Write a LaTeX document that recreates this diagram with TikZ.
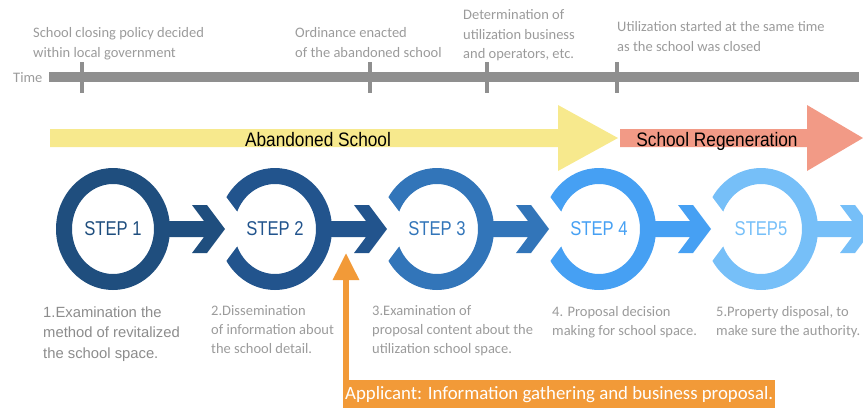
\documentclass[tikz,border=0pt]{standalone}
\usepackage{graphicx}
\usepackage{fontspec}
\setmainfont{Carlito}
\newfontfamily\arialfont{Liberation Sans}
\usetikzlibrary{arrows.meta,positioning,calc,backgrounds}
\definecolor{stepa}{HTML}{1F4E7E}
\definecolor{stepb}{HTML}{22548D}
\definecolor{stepc}{HTML}{3275B9}
\definecolor{stepd}{HTML}{46A0F3}
\definecolor{stepe}{HTML}{76BFF8}
\definecolor{timegray}{HTML}{8F8F8F}
\definecolor{notegray}{HTML}{9B9B9B}
\definecolor{capgray}{HTML}{8C8C8C}
\definecolor{abyellow}{HTML}{F7E98D}
\definecolor{regenred}{HTML}{F29A86}
\definecolor{apporange}{HTML}{F29A38}

\begin{document}
\begin{tikzpicture}[x=1pt,y=-1pt,
note/.style={anchor=base west,align=left,inner sep=0pt,text=notegray,
font=\fontsize{14.5}{19.5}\selectfont},
caption/.style={anchor=base west,align=left,inner sep=0pt,text=notegray,
font=\fontsize{14.5}{19}\selectfont},
stepname/.style={inner sep=0pt,font=\arialfont\fontsize{20}{20}\selectfont},
phase/.style={anchor=base,inner sep=0pt,font=\arialfont\fontsize{19.5}{20}\selectfont},
tick/.style={draw=timegray,line width=3.5pt},
timebar/.style={draw=timegray,line width=10pt},
applicant/.style={anchor=north west,fill=apporange,text=white,inner xsep=2pt,
minimum height=28pt,font=\fontsize{18.8}{20}\selectfont},
apparrow/.style={draw=apporange,line width=6pt,-{Triangle[length=27pt,width=25pt]}}
]
\useasboundingbox (0,0) rectangle (863,408);

% time line (notes sit on the baseline of their last line)
\node[note] (time) at (13,82) {Time};
\draw[timebar] (49,77) -- (859,77);
\foreach \x in {82,370,487,617} \draw[tick] (\x,62) -- (\x,93);
\node[note] (t1) at (33,57) {School closing policy decided\\within local government};
\node[note] (t2) at (295,57) {Ordinance enacted\\of the abandoned school};
\node[note] (t3) at (463,58.5) {Determination of\\utilization business\\and operators, etc.};
\node[note] (t4) at (617,51) {Utilization started at the same time\\as the school was closed};

% phases
\fill[abyellow] (50,129) -- (558,129) -- (558,105) -- (618,138) -- (558,171)
-- (558,147) -- (50,147) -- cycle;
\fill[regenred] (620,129) -- (807,129) -- (807,105) -- (863,138) -- (807,171)
-- (807,147) -- (620,147) -- cycle;
\node[phase] (aband) at (318,146) {\scalebox{0.885}[1]{Abandoned School}};
\node[phase] (regen) at (717,146) {\scalebox{0.885}[1]{School Regeneration}};

% steps
\foreach \i/\col/\lbl [evaluate=\i as \x using 113+162*(\i-1)] in
{1/stepa/STEP 1,2/stepb/STEP 2,3/stepc/STEP 3,4/stepd/STEP 4,5/stepe/STEP5}
\node[stepname,text=\col] (s\i) at (\x,229) {\scalebox{0.83}[1]{\lbl}};

\begin{scope}[on background layer]
\clip (0,0) rectangle (863,408);
\foreach \i/\col in {1/stepa,2/stepb,3/stepc,4/stepd,5/stepe}
\fill[\col,even odd rule] (s\i.center) ellipse [x radius=57,y radius=61]
(s\i.center) ellipse [x radius=41,y radius=45];
% notches cut into the rings
\foreach \i in {2,...,5}
\fill[white,shift={(s\i.center)}] (-25,0) -- (-72,-63) -- (-100,-63)
-- (-100,63) -- (-72,63) -- cycle;
\foreach \i/\col in {1/stepa,2/stepb,3/stepc,4/stepd,5/stepe}
\fill[\col,shift={(s\i.center)}] (50,-8) -- (91,-8) -- (79,-24) -- (94,-24)
-- (112,0) -- (94,24) -- (79,24) -- (91,8) -- (50,8) -- cycle;
\end{scope}

% captions
\node[caption,text=capgray,font=\arialfont\fontsize{14.8}{20.5}\selectfont] (d1) at (43,358)
{1.Examination the\\method of revitalized\\the school space.};
\node[caption] (d2) at (211,353) {2.Dissemination\\of information about\\the school detail.};
\node[caption] (d3) at (372,353) {3.Examination of\\proposal content about the\\utilization school space.};
\node[caption] (d4) at (552,335) {4. Proposal decision\\making for school space.};
\node[caption] (d5) at (716,335) {5.Property disposal, to\\make sure the authority.};

% applicant
\node[applicant] (app) at (343,380) {Applicant: Information gathering and business proposal.};
\coordinate (apptip) at (346,253);
\draw[apparrow] (app.north west -| apptip) -- (apptip);
\end{tikzpicture}
\end{document}
